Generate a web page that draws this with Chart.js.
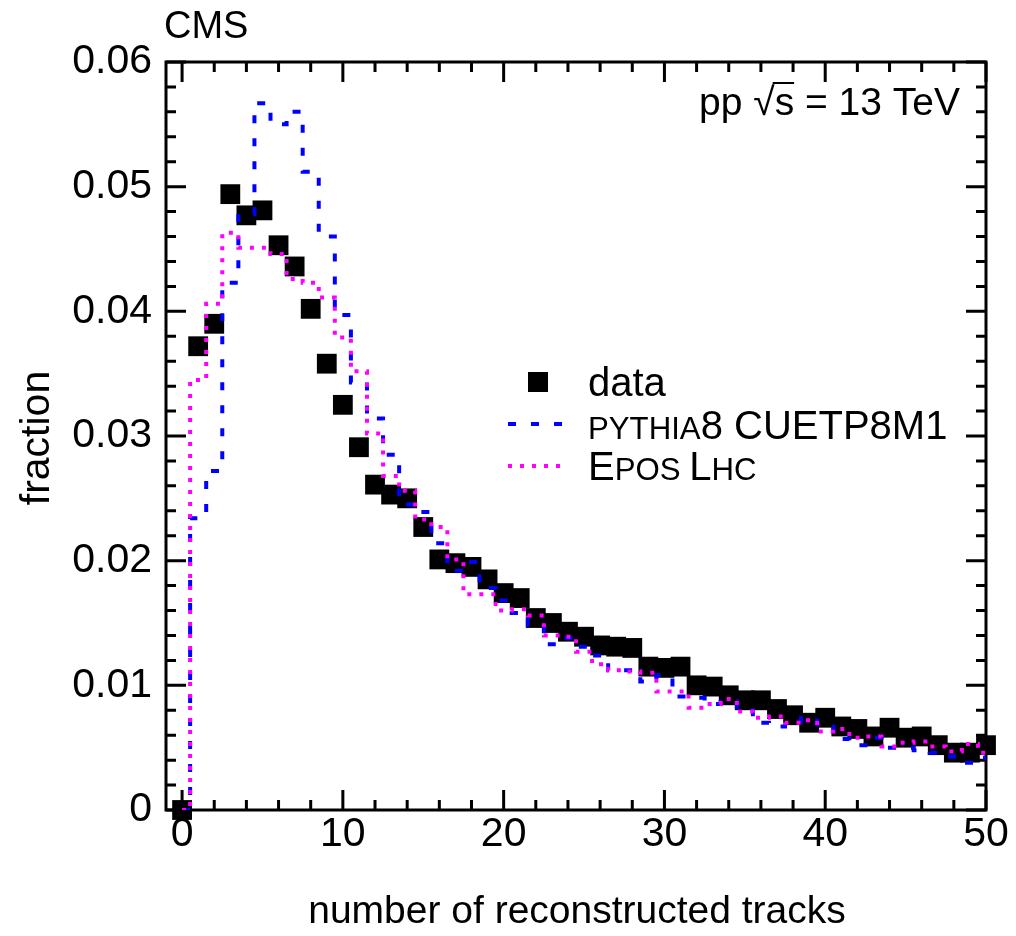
<!DOCTYPE html>
<html><head><meta charset="utf-8">
<script src="https://cdn.jsdelivr.net/npm/chart.js@4/dist/chart.umd.min.js"></script>
<style>html,body{margin:0;padding:0;background:#fff;}canvas{display:block;}</style>
</head><body>
<canvas id="c" width="1016" height="936"></canvas>
<script>
// ---- data ----
const tracks = Array.from({length: 51}, (_, i) => i); // bin centres 0..50
const dataFraction = [0.0, 0.0372, 0.0390, 0.0494, 0.0477, 0.0481, 0.0453, 0.0436, 0.0402, 0.0358,
  0.0325, 0.0291, 0.0261, 0.0253, 0.0250, 0.0227, 0.0201, 0.0198, 0.0195, 0.0185,
  0.0174, 0.0170, 0.0154, 0.0150, 0.0143, 0.0139, 0.0132, 0.0131, 0.0130, 0.0115,
  0.0114, 0.0115, 0.0100, 0.0099, 0.0092, 0.0088, 0.0088, 0.0081, 0.0076, 0.0070,
  0.0074, 0.0067, 0.0065, 0.0059, 0.0066, 0.0058, 0.0059, 0.0052, 0.0046, 0.0046, 0.0052];
const pythia8 = [0.0, 0.0234, 0.0272, 0.0423, 0.0478, 0.0567, 0.0550, 0.0560, 0.0512, 0.0460,
  0.0397, 0.0343, 0.0314, 0.0285, 0.0245, 0.0239, 0.0214, 0.0192, 0.0199, 0.0178,
  0.0168, 0.0158, 0.0148, 0.0133, 0.0138, 0.0131, 0.0124, 0.0112, 0.0112, 0.0103,
  0.0108, 0.0091, 0.0090, 0.0085, 0.0087, 0.0080, 0.0070, 0.0067, 0.0071, 0.0074,
  0.0067, 0.0057, 0.0052, 0.0058, 0.0050, 0.0050, 0.0048, 0.0046, 0.0043, 0.0038, 0.0042];
const eposLHC = [0.0, 0.0345, 0.0406, 0.0463, 0.0451, 0.0451, 0.0446, 0.0426, 0.0423, 0.0411,
  0.0379, 0.0352, 0.0302, 0.0268, 0.0256, 0.0233, 0.0227, 0.0201, 0.0173, 0.0173,
  0.0160, 0.0161, 0.0156, 0.0140, 0.0139, 0.0127, 0.0117, 0.0112, 0.0111, 0.0110,
  0.0095, 0.0095, 0.0082, 0.0085, 0.0089, 0.0079, 0.0074, 0.0075, 0.0070, 0.0072,
  0.0063, 0.0065, 0.0058, 0.0059, 0.0051, 0.0054, 0.0055, 0.0051, 0.0047, 0.0053, 0.0046];
const xTickValues = [0, 10, 20, 30, 40, 50];
const yTickValues = [0, 0.01, 0.02, 0.03, 0.04, 0.05, 0.06];
const xTitle = 'number of reconstructed tracks';
const yTitle = 'fraction';

// ---- styling ----
const FAM = '"Liberation Sans", Arial, Helvetica, sans-serif';
const f = s => s + 'px ' + FAM;
const BLUE = '#0000ff', MAGENTA = '#ff00ff';

function runs(ctx, x, y, parts, size) {
  let cx = x;
  for (const [t, s] of parts) {
    ctx.font = f(size * s);
    ctx.fillText(t, cx, y);
    cx += ctx.measureText(t).width;
  }
}

const decor = {
  id: 'decor',
  beforeDatasetsDraw(chart) {
    const {ctx, chartArea: a, scales: {x, y}} = chart;
    ctx.save();
    ctx.strokeStyle = '#000';
    ctx.lineWidth = 3;
    ctx.strokeRect(a.left, a.top, a.right - a.left, a.bottom - a.top);
    ctx.beginPath();
    for (let i = 0; i <= 25; i++) {
      const v = i * 2, px = x.getPixelForValue(v), len = (v % 10 === 0) ? 20 : 10;
      ctx.moveTo(px, a.bottom); ctx.lineTo(px, a.bottom - len);
      ctx.moveTo(px, a.top); ctx.lineTo(px, a.top + len);
    }
    for (let i = 0; i <= 30; i++) {
      const v = i * 0.002, py = y.getPixelForValue(v), len = (i % 5 === 0) ? 20 : 10;
      ctx.moveTo(a.left, py); ctx.lineTo(a.left + len, py);
      ctx.moveTo(a.right, py); ctx.lineTo(a.right - len, py);
    }
    ctx.stroke();
    ctx.restore();
  },
  afterDraw(chart) {
    const {ctx} = chart;
    ctx.save();
    ctx.fillStyle = '#000';
    ctx.textBaseline = 'alphabetic';
    // CMS
    ctx.textAlign = 'left';
    ctx.font = f(38);
    ctx.fillText('CMS', 164, 38);
    // energy label
    ctx.font = f(39);
    const pre = 'pp ', rad = '\u221A', s = 's', post = ' = 13 TeV';
    const wPre = ctx.measureText(pre).width, wRad = ctx.measureText(rad).width,
          wS = ctx.measureText(s).width, wPost = ctx.measureText(post).width;
    let ex = 960 - (wPre + wRad + wS + wPost);
    const eb = 115;
    ctx.fillText(pre, ex, eb); ex += wPre;
    ctx.fillText(rad, ex, eb); ex += wRad;
    ctx.fillText(s, ex, eb);
    ctx.fillRect(ex - 2, eb - 33, wS + 2, 2);
    ex += wS;
    ctx.fillText(post, ex, eb);
    // axis titles
    ctx.font = f(39);
    ctx.textAlign = 'center';
    ctx.fillText(xTitle, 577, 923);
    ctx.save();
    ctx.translate(49, 438);
    ctx.rotate(-Math.PI / 2);
    ctx.font = f(41);
    ctx.fillText(yTitle, 0, 0);
    ctx.restore();
    // legend
    ctx.textAlign = 'left';
    const LF = 40, tx = 588;
    ctx.fillRect(528, 372, 20, 20);
    ctx.font = f(LF);
    ctx.fillText('data', tx, 396);
    ctx.lineWidth = 4;
    ctx.strokeStyle = BLUE;
    ctx.setLineDash([8, 15]);
    ctx.beginPath(); ctx.moveTo(508, 424); ctx.lineTo(568, 424); ctx.stroke();
    runs(ctx, tx, 439, [['PYTHIA', 0.78], ['8 CUETP8M1', 1]], LF);
    ctx.strokeStyle = MAGENTA;
    ctx.setLineDash([4, 8]);
    ctx.beginPath(); ctx.moveTo(508, 466); ctx.lineTo(562, 466); ctx.stroke();
    runs(ctx, tx, 480, [['E', 1], ['POS ', 0.78], ['L', 1], ['HC', 0.78]], LF);
    ctx.restore();
  }
};

new Chart(document.getElementById('c'), {
  data: {
    labels: tracks,
    datasets: [
      {
        type: 'line', label: 'EPOS LHC', order: 1,
        data: tracks.map((t, i) => ({x: t, y: eposLHC[i]})),
        borderColor: MAGENTA, borderWidth: 4, borderDash: [4, 8], borderCapStyle: 'butt',
        stepped: 'middle', pointRadius: 0, fill: false
      },
      {
        type: 'line', label: 'PYTHIA8 CUETP8M1', order: 2,
        data: tracks.map((t, i) => ({x: t, y: pythia8[i]})),
        borderColor: BLUE, borderWidth: 4, borderDash: [8, 15], borderCapStyle: 'butt',
        stepped: 'middle', pointRadius: 0, fill: false
      },
      {
        type: 'scatter', label: 'data', order: 3,
        data: tracks.map((t, i) => ({x: t, y: dataFraction[i]})),
        pointStyle: 'rect', pointRadius: 14, pointHoverRadius: 14,
        backgroundColor: '#000', borderWidth: 0, clip: false
      }
    ]
  },
  options: {
    responsive: false,
    animation: false,
    events: [],
    layout: {padding: {left: 0, top: 62, right: 30, bottom: 0}},
    plugins: {legend: {display: false}, tooltip: {enabled: false}},
    scales: {
      x: {
        type: 'linear', min: -1, max: 50, position: 'bottom',
        grid: {display: false, drawTicks: false}, border: {display: false},
        afterBuildTicks: sc => { sc.ticks = xTickValues.map(v => ({value: v})); },
        afterFit: sc => { sc.height = 126; },
        ticks: {font: {family: FAM, size: 41}, color: '#000', padding: 0, maxRotation: 0,
                callback: v => String(v)}
      },
      y: {
        type: 'linear', min: 0, max: 0.06,
        grid: {display: false, drawTicks: false}, border: {display: false},
        afterBuildTicks: sc => { sc.ticks = yTickValues.map(v => ({value: v})); },
        afterFit: sc => { sc.width = 166; },
        ticks: {font: {family: FAM, size: 41}, color: '#000', padding: 14,
                callback: v => v === 0 ? '0' : v.toFixed(2)}
      }
    }
  },
  plugins: [decor]
});
</script>
</body></html>
